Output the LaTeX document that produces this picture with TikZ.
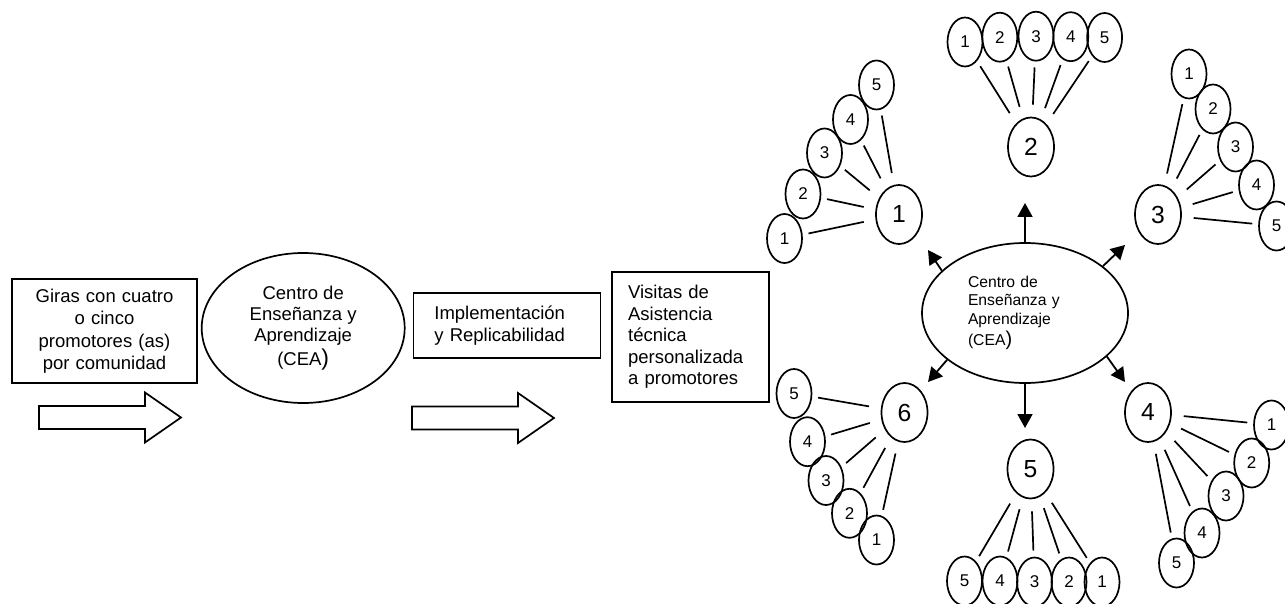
\documentclass[tikz,border=0pt]{standalone}
\usepackage{fontspec}
\setmainfont{Liberation Sans}
\usetikzlibrary{
        arrows.meta,
        positioning,
        shapes.geometric
    }
\tikzset{
  box/.style={draw,line width=1.7pt,inner sep=0pt,font=\fontsize{18.5}{21.5}\selectfont},
  cea/.style={ellipse,draw,line width=1.7pt,inner sep=0pt},
  hub/.style={ellipse,draw,line width=1.7pt,minimum width=46pt,minimum height=59pt,inner sep=0pt,font=\fontsize{24.7}{26}\selectfont},
  leaf/.style={ellipse,draw,line width=1.7pt,minimum width=35pt,minimum height=49pt,inner sep=0pt,font=\fontsize{17}{18}\selectfont},
  spoke/.style={line width=1.7pt,shorten <=6pt,shorten >=12pt},
  ray/.style={line width=1.8pt,-{Triangle[length=14pt,width=15pt]}},
  bigarrow/.style={draw,line width=1.7pt}
}
\newcommand{\blockarrow}[2]{%
  \draw[bigarrow] (#1,#2) ++(0,-11.5) -- ++(106,0) -- ++(0,-13.5) -- ++(36,25)
    -- ++(-36,25) -- ++(0,-13.5) -- ++(-106,0) -- cycle;}

\begin{document}
\begin{tikzpicture}[x=1pt,y=-1pt]
\useasboundingbox (0,0) rectangle (1285,604);
% left: from the tour to the visits
\node[box,minimum width=185pt,minimum height=104pt,text width=170pt,align=center,font=\fontsize{18.5}{22.5}\selectfont] (giras) at (104.5,331)
    {Giras con cuatro\\o cinco\\promotores (as)\\por comunidad};
\node[cea,minimum width=203pt,minimum height=150pt,align=center,font=\fontsize{18.5}{21}\selectfont] (cea1) [right=3pt of giras,yshift=3pt]
    {Centro de\\Enseñanza y\\Aprendizaje\\[3pt](CEA{\fontsize{23}{23}\selectfont)}};
\node[box,minimum width=187pt,minimum height=65pt,text width=145pt,align=left] (impl) [right=7pt of cea1,yshift=2.5pt]
    {Implementación\\y Replicabilidad};
\node[box,minimum width=157pt,minimum height=130pt,text width=125pt,align=left] (visitas) [right=10pt of impl,yshift=-11.5pt]
    {Visitas de\\Asistencia\\técnica\\personalizada\\a promotores};
\blockarrow{39}{417.5}
\blockarrow{412}{418}

% right: the CEA and its six groups
\node[cea,minimum width=206pt,minimum height=140pt,text width=114pt,align=left,font=\fontsize{15.7}{18.3}\selectfont] (cea2) at (1025,313)
    {Centro de\\Enseñanza y\\Aprendizaje\\[3pt](CEA{\fontsize{20}{20}\selectfont)}};
\node[hub] (s1) at (899,214.5)  {1};
\node[hub] (s2) at (1031,147)   {2};
\node[hub] (s3) at (1158,214.5) {3};
\node[hub] (s4) at (1148,412.5) {4};
\node[hub] (s5) at (1030.5,469) {5};
\node[hub] (s6) at (904.5,412.5) {6};

\node[leaf] (a1) at (784.5,238.5) {1};
\node[leaf] (a2) at (803,194)     {2};
\node[leaf] (a3) at (824.5,153)   {3};
\node[leaf] (a4) at (850.5,119.5) {4};
\node[leaf] (a5) at (876.5,85)    {5};

\node[leaf] (b1) at (965,42)      {1};
\node[leaf] (b2) at (999.8,37.2)  {2};
\node[leaf] (b3) at (1036,36.2)   {3};
\node[leaf] (b4) at (1070.8,36.7) {4};
\node[leaf] (b5) at (1104.6,37.5) {5};

\node[leaf] (c1) at (1189,74)     {1};
\node[leaf] (c2) at (1213,109)    {2};
\node[leaf] (c3) at (1235.5,147)  {3};
\node[leaf] (c4) at (1256.5,185)  {4};
\node[leaf] (c5) at (1276.5,226)  {5};

\node[leaf] (d1) at (1271.5,425)  {1};
\node[leaf] (d2) at (1251.7,463)  {2};
\node[leaf] (d3) at (1226,496)    {3};
\node[leaf] (d4) at (1202,533)    {4};
\node[leaf] (d5) at (1176.5,563)  {5};

\node[leaf] (e5) at (964.5,581)   {5};
\node[leaf] (e4) at (1000,581)    {4};
\node[leaf] (e3) at (1034.5,582)  {3};
\node[leaf] (e2) at (1069,582)    {2};
\node[leaf] (e1) at (1102,582)    {1};

\node[leaf] (f5) at (794,393.5)   {5};
\node[leaf] (f4) at (807.5,441.7) {4};
\node[leaf] (f3) at (826,480.5)   {3};
\node[leaf] (f2) at (849.5,513.3) {2};
\node[leaf] (f1) at (876.5,540)   {1};

\path[spoke]
    (a1) edge (s1) (a2) edge (s1) (a3) edge (s1) (a4) edge (s1) (a5) edge (s1)
    (b1) edge (s2) (b2) edge (s2) (b3) edge (s2) (b4) edge (s2) (b5) edge (s2)
    (c1) edge (s3) (c2) edge (s3) (c3) edge (s3) (c4) edge (s3) (c5) edge (s3)
    (d1) edge (s4) (d2) edge (s4) (d3) edge (s4) (d4) edge (s4) (d5) edge (s4)
    (e1) edge (s5) (e2) edge (s5) (e3) edge (s5) (e4) edge (s5) (e5) edge (s5)
    (f1) edge (s6) (f2) edge (s6) (f3) edge (s6) (f4) edge (s6) (f5) edge (s6);

\coordinate (t1) at (928,250);
\coordinate (t2) at (1025,203);
\coordinate (t3) at (1125,245);
\coordinate (t4) at (1125,382);
\coordinate (t5) at (1025,428);
\coordinate (t6) at (928,382);
\path[ray]
    (cea2.153) edge (t1)
    (cea2.north) edge (t2)
    (cea2.31) edge (t3)
    (cea2.-28) edge (t4)
    (cea2.south) edge (t5)
    (cea2.211) edge (t6);
\end{tikzpicture}
\end{document}
